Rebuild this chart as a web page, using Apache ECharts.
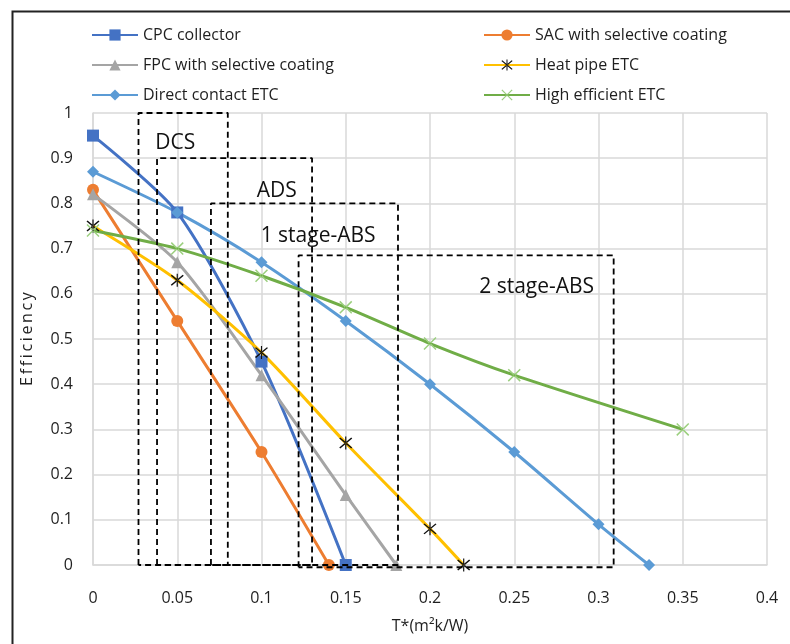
<!DOCTYPE html>
<html>
<head>
<meta charset="utf-8">
<script src="https://cdn.jsdelivr.net/npm/echarts@6/dist/echarts.min.js"></script>
<style>
  html, body { margin: 0; padding: 0; background: #fff; }
  #chart { width: 790px; height: 644px; }
</style>
</head>
<body>
<div id="chart"></div>
<script>
// collector curves: [T*, efficiency]
const cpcData = [[0, 0.95], [0.05, 0.78], [0.1, 0.45], [0.15, 0]];
const sacData = [[0, 0.83], [0.05, 0.54], [0.1, 0.25], [0.14, 0]];
const fpcData = [[0, 0.82], [0.05, 0.67], [0.1, 0.42], [0.15, 0.155], [0.18, 0]];
const heatPipeData = [[0, 0.75], [0.05, 0.63], [0.1, 0.47], [0.15, 0.27], [0.2, 0.08], [0.22, 0]];
const directData = [[0, 0.87], [0.05, 0.78], [0.1, 0.67], [0.15, 0.54], [0.2, 0.40], [0.25, 0.25], [0.3, 0.09], [0.33, 0]];
const highEffData = [[0, 0.74], [0.05, 0.70], [0.1, 0.64], [0.15, 0.57], [0.2, 0.49], [0.25, 0.42], [0.35, 0.30]];

// cooling technology windows (dashed boxes)
const boxNames = ['DCS', 'ADS', '1 stage-ABS', '2 stage-ABS'];
const boxLeft = [0.027, 0.038, 0.07, 0.122];
const boxRight = [0.08, 0.13, 0.181, 0.309];
const boxTop = [1.0, 0.9, 0.8, 0.685];
const boxBottom = [0, 0, 0, -0.005];
const boxLabelPos = [[0.0488, 0.934], [0.1091, 0.827], [0.1336, 0.728], [0.2633, 0.614]];

const FONT = 'Open Sans';
const TEXT = '#1f1f1f';
const xSym = 'path://M0,0.8 L0.8,0 L10,9.2 L9.2,10 Z M10,0.8 L9.2,0 L0,9.2 L0.8,10 Z';
const starSym = 'path://M0,0.8 L0.8,0 L10,9.2 L9.2,10 Z M10,0.8 L9.2,0 L0,9.2 L0.8,10 Z M4.55,-1 L5.45,-1 L5.45,11 L4.55,11 Z';

function curve(name, data, color, symbol, size, markColor) {
    return {
        name,
        type: 'line',
        data,
        smooth: 0.25,
        symbol,
        symbolSize: size,
        lineStyle: { color, width: 3 },
        itemStyle: { color: markColor || color },
        z: 3,
    };
}

const boxSeries = boxNames.map((n, i) => ({
    name: n,
    type: 'line',
    clip: false,
    silent: true,
    symbol: 'none',
    data: [
        [boxLeft[i], boxBottom[i]],
        [boxLeft[i], boxTop[i]],
        [boxRight[i], boxTop[i]],
        [boxRight[i], boxBottom[i]],
        [boxLeft[i], boxBottom[i]],
    ],
    lineStyle: { color: '#000', width: 1.8, type: [6, 4] },
    z: 4,
}));

const boxLabels = {
    type: 'scatter',
    silent: true,
    symbolSize: 1,
    itemStyle: { opacity: 1, color: 'transparent' },
    data: boxNames.map((n, i) => ({ name: n, value: boxLabelPos[i] })),
    label: {
        show: true,
        position: 'inside',
        formatter: (p) => p.name,
        fontFamily: FONT,
        fontSize: 21,
        color: '#111',
        opacity: 1,
        textBorderWidth: 0,
        textBorderColor: 'transparent',
    },
    z: 5,
};

let myChart = echarts.init(document.getElementById('chart'));
myChart.setOption({
    animation: false,
    backgroundColor: '#fff',
    textStyle: { fontFamily: FONT },
    graphic: [
        {
            type: 'rect',
            left: 10,
            top: 9,
            shape: { width: 820, height: 700 },
            style: { fill: 'none', stroke: '#222', lineWidth: 2 },
            silent: true,
        },
    ],
    legend: [
        {
            data: ['CPC collector', 'FPC with selective coating', 'Direct contact ETC'],
            orient: 'vertical',
            left: 86,
            top: 22,
            itemWidth: 46,
            itemHeight: 14,
            itemGap: 14,
            textStyle: { fontFamily: FONT, fontSize: 16, color: TEXT },
        },
        {
            data: ['SAC with selective coating', 'Heat pipe ETC', 'High efficient ETC'],
            orient: 'vertical',
            left: 478,
            top: 22,
            itemWidth: 46,
            itemHeight: 14,
            itemGap: 14,
            textStyle: { fontFamily: FONT, fontSize: 16, color: TEXT },
        },
    ],
    grid: { left: 93, right: 23, top: 113, bottom: 79 },
    xAxis: {
        type: 'value',
        min: 0,
        max: 0.4,
        interval: 0.05,
        name: 'T*(m²k/W)',
        nameLocation: 'middle',
        nameGap: 53,
        nameTextStyle: { fontFamily: FONT, fontSize: 16, color: TEXT },
        axisLine: { show: true, lineStyle: { color: '#d9d9d9', width: 1.5 } },
        axisTick: { show: false },
        axisLabel: { fontFamily: FONT, fontSize: 16, color: TEXT, margin: 25 },
        splitLine: { show: true, lineStyle: { color: '#d9d9d9', width: 1.5 } },
    },
    yAxis: {
        type: 'value',
        min: 0,
        max: 1,
        interval: 0.1,
        name: 'E\u2009f\u2009f\u2009i\u2009c\u2009i\u2009e\u2009n\u2009c\u2009y',
        nameLocation: 'middle',
        nameGap: 58,
        nameTextStyle: { fontFamily: FONT, fontSize: 16, color: TEXT },
        axisLine: { show: true, lineStyle: { color: '#d9d9d9', width: 1.5 } },
        axisTick: { show: false },
        axisLabel: { fontFamily: FONT, fontSize: 16, color: TEXT, margin: 20 },
        splitLine: { show: true, lineStyle: { color: '#d9d9d9', width: 1.5 } },
    },
    series: [
        curve('CPC collector', cpcData, '#4472C4', 'rect', 12),
        curve('SAC with selective coating', sacData, '#ED7D31', 'circle', 12),
        curve('FPC with selective coating', fpcData, '#A5A5A5', 'triangle', 12),
        curve('Heat pipe ETC', heatPipeData, '#FFC000', starSym, 13, '#111'),
        curve('Direct contact ETC', directData, '#5B9BD5', 'diamond', 12),
        curve('High efficient ETC', highEffData, '#70AD47', xSym, 13, '#9BCF7E'),
        ...boxSeries,
        boxLabels,
    ],
});
</script>
</body>
</html>
